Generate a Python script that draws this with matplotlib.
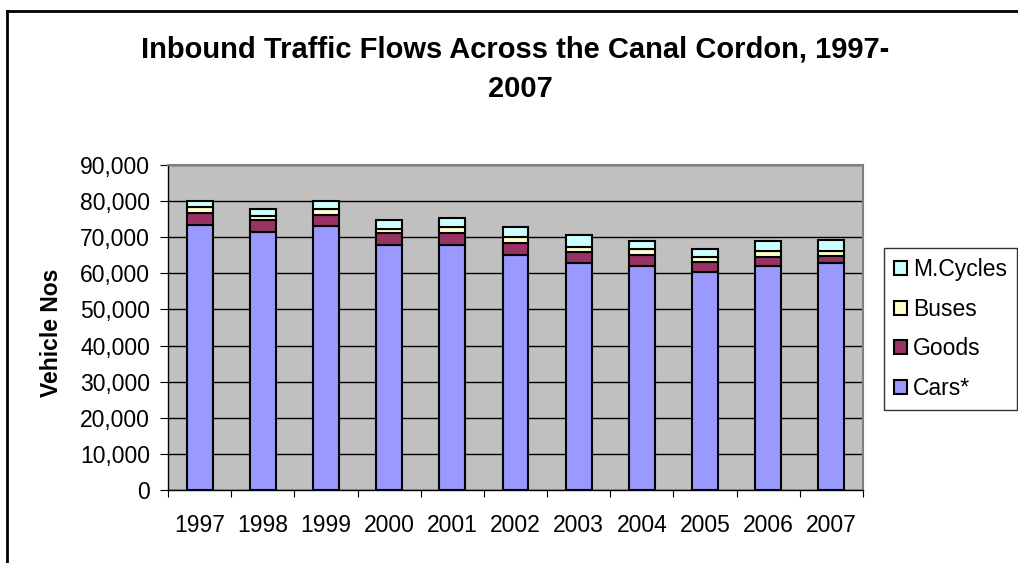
import numpy as np
import matplotlib
matplotlib.use("Agg")
import matplotlib.pyplot as plt
from matplotlib.lines import Line2D

plt.rcParams['font.family'] = ['Liberation Sans', 'DejaVu Sans']

years = ["1997", "1998", "1999", "2000", "2001", "2002", "2003", "2004", "2005", "2006", "2007"]
cars = [73500, 71500, 73000, 67850, 67850, 65100, 63000, 62000, 60450, 62000, 63000]
goods = [3300, 3200, 3150, 3200, 3200, 3300, 2800, 3200, 2600, 2600, 1700]
buses = [1600, 1200, 1800, 1100, 1650, 1600, 1600, 1500, 1500, 1600, 1600]
mcycles = [1600, 2050, 2050, 2600, 2600, 2700, 3150, 2300, 2250, 2800, 2800]

series = [("Cars*", cars, "#9999FF"), ("Goods", goods, "#993366"),
          ("Buses", buses, "#FFFFCC"), ("M.Cycles", mcycles, "#CCFFFF")]

W, H = 1018, 563
fig = plt.figure(figsize=(W / 100, H / 100), dpi=100)
ax = fig.add_axes([168 / W, 73 / H, 695 / W, 325 / H])
ax.set_facecolor("#C0C0C0")

x = np.arange(len(years))
bottom = np.zeros(len(years))
bars = {}
for name, vals, col in series:
    b = ax.bar(x, vals, 0.41, bottom=bottom, color=col, edgecolor="black", linewidth=1.5, label=name, zorder=3)
    bars[name] = b
    bottom += np.array(vals)

ax.set_xlim(-0.5, len(years) - 0.5)
ax.set_ylim(0, 90000)
ax.set_yticks(np.arange(0, 90001, 10000))
ax.set_yticklabels([f"{v:,}" for v in range(0, 90001, 10000)], fontsize=16.5)
ax.yaxis.grid(True, color="black", linewidth=1, zorder=1)
ax.set_axisbelow(True)

# ticks between categories, labels under the bars
ax.set_xticks(np.arange(-0.5, len(years), 1.0))
ax.set_xticklabels([])
ax.set_xticks(x, minor=True)
ax.set_xticklabels(years, minor=True, fontsize=16.5)
ax.tick_params(axis="x", which="major", direction="out", length=5, color="black")
ax.tick_params(axis="x", which="minor", length=0, pad=17)
ax.tick_params(axis="y", direction="out", length=6, pad=7)

for s in ["top", "right"]:
    ax.spines[s].set_color("#808080")
    ax.spines[s].set_linewidth(1.5)
for s in ["left", "bottom"]:
    ax.spines[s].set_color("black")
    ax.spines[s].set_linewidth(1)

fig.text(52 / W, 1 - 333 / H, "Vehicle Nos", rotation=90, ha="center", va="center",
         fontsize=16.5, fontweight="bold")

fig.text(515 / W, 1 - 58 / H, "Inbound Traffic Flows Across the Canal Cordon, 1997-",
         ha="center", va="baseline", fontsize=21, fontweight="bold")
fig.text(520 / W, 1 - 97 / H, "2007", ha="center", va="baseline", fontsize=21, fontweight="bold")

handles = [bars["M.Cycles"], bars["Buses"], bars["Goods"], bars["Cars*"]]
leg = fig.legend(handles, ["M.Cycles", "Buses", "Goods", "Cars*"], loc="upper left",
                 bbox_to_anchor=(884 / W, 1 - 248 / H), fontsize=16.5, frameon=True,
                 fancybox=False, edgecolor="black", handlelength=0.55, handleheight=0.55,
                 handletextpad=0.25, labelspacing=0.72, borderpad=0.45, borderaxespad=0)
leg.get_frame().set_linewidth(1)

# outer chart frame (cropped at right and bottom)
fig.add_artist(Line2D([7 / W, 7 / W], [0, 1 - 11 / H], transform=fig.transFigure, color="black", linewidth=2))
fig.add_artist(Line2D([7 / W, 1], [1 - 11 / H, 1 - 11 / H], transform=fig.transFigure, color="black", linewidth=2))

fig.savefig("out.png", dpi=100)
